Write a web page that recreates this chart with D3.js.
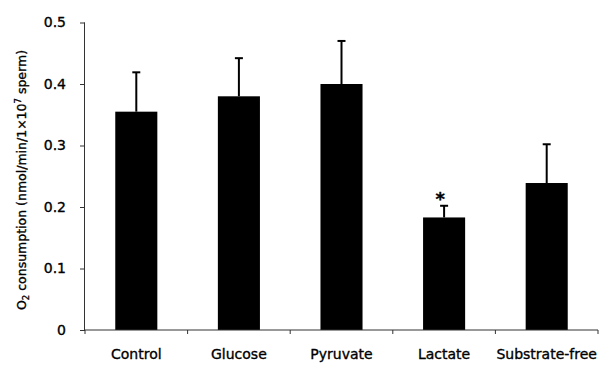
<!DOCTYPE html>
<html>
<head>
<meta charset="utf-8">
<script src="https://cdn.jsdelivr.net/npm/d3@7"></script>
<style>
  html, body { margin: 0; padding: 0; background: #fff; }
  svg { display: block; }
  text { font-family: "DejaVu Sans", Verdana, sans-serif; fill: #000; stroke: #000; stroke-width: 0.35px; }
</style>
</head>
<body>
<script>
// O2 consumption per substrate (mean ± SD)
const categories = ["Control", "Glucose", "Pyruvate", "Lactate", "Substrate-free"];
const means = [0.355, 0.380, 0.400, 0.183, 0.239];
const errors = [0.064, 0.062, 0.070, 0.019, 0.063];
const significant = [false, false, false, true, false];
const yTicks = [0, 0.1, 0.2, 0.3, 0.4, 0.5];
const yTickLabels = ["0", "0.1", "0.2", "0.3", "0.4", "0.5"];

const W = 615, H = 369;
const plotLeft = 85, plotRight = 598, plotTop = 22.5, plotBottom = 330;

const svg = d3.select("body").append("svg")
  .attr("width", W).attr("height", H);

const x = d3.scaleBand().domain(categories).range([plotLeft, plotRight])
  .paddingInner(0.59).paddingOuter(0.295);
const xGrid = d3.scaleBand().domain(categories).range([plotLeft, plotRight]).padding(0);
const y = d3.scaleLinear().domain([0, 0.5]).range([plotBottom, plotTop]);

const axisColor = "#333";

// bars
svg.append("g").selectAll("rect").data(categories).join("rect")
  .attr("x", d => x(d))
  .attr("width", x.bandwidth())
  .attr("y", (d, i) => y(means[i]))
  .attr("height", (d, i) => y(0) - y(means[i]))
  .attr("fill", "#000");

// error bars (upper only)
const eb = svg.append("g").attr("stroke", "#000").attr("stroke-width", 2);
categories.forEach((c, i) => {
  const cx = x(c) + x.bandwidth() / 2;
  eb.append("line")
    .attr("x1", cx).attr("x2", cx)
    .attr("y1", y(means[i])).attr("y2", y(means[i] + errors[i]));
  eb.append("line")
    .attr("x1", cx - 4).attr("x2", cx + 4)
    .attr("y1", y(means[i] + errors[i])).attr("y2", y(means[i] + errors[i]));
});

// significance marks
svg.append("g").selectAll("text").data(categories.filter((c, i) => significant[i])).join("text")
  .attr("x", d => x(d) + x.bandwidth() / 2 - 4)
  .attr("y", d => { const i = categories.indexOf(d); return y(means[i] + errors[i]) - 1; })
  .attr("text-anchor", "middle")
  .attr("font-size", 18)
  .attr("font-weight", "bold")
  .text("*");

// y axis
const yAxis = d3.axisLeft(y).tickValues(yTicks)
  .tickFormat((d, i) => yTickLabels[i]).tickSize(5).tickPadding(14);
const gy = svg.append("g").attr("transform", `translate(${plotLeft},0)`).call(yAxis);
gy.select(".domain").attr("stroke", axisColor).attr("d", `M-0.5,${plotBottom}V${plotTop}`);
gy.selectAll(".tick line").attr("stroke", axisColor);
gy.selectAll(".tick text").attr("font-size", 14)
  .style("font-family", "'DejaVu Sans', Verdana, sans-serif").attr("fill", "#000");

// x axis: line with boundary ticks, labels centred under bars
const gx = svg.append("g").attr("transform", `translate(0,${plotBottom})`);
gx.append("line").attr("x1", plotLeft).attr("x2", plotRight).attr("y1", 0).attr("y2", 0)
  .attr("stroke", axisColor);
const bounds = categories.map(c => xGrid(c)).concat([plotRight]);
gx.selectAll("line.b").data(bounds).join("line").attr("class", "b")
  .attr("x1", d => d).attr("x2", d => d).attr("y1", 0).attr("y2", 4)
  .attr("stroke", axisColor);
gx.selectAll("text").data(categories).join("text")
  .attr("x", d => x(d) + x.bandwidth() / 2)
  .attr("y", 29)
  .attr("text-anchor", "middle")
  .attr("font-size", 14)
  .text(d => d);

// y axis title
const title = svg.append("text")
  .attr("transform", "translate(26,180) rotate(-90)")
  .attr("text-anchor", "middle")
  .attr("font-size", 12.5);
title.append("tspan").text("O");
title.append("tspan").attr("font-size", 8.5).attr("dy", 3).text("2");
title.append("tspan").attr("dy", -3).text(" consumption (nmol/min/1\u00d710");
title.append("tspan").attr("font-size", 8.5).attr("dy", -5).text("7");
title.append("tspan").attr("dy", 5).text(" sperm)");
</script>
</body>
</html>
